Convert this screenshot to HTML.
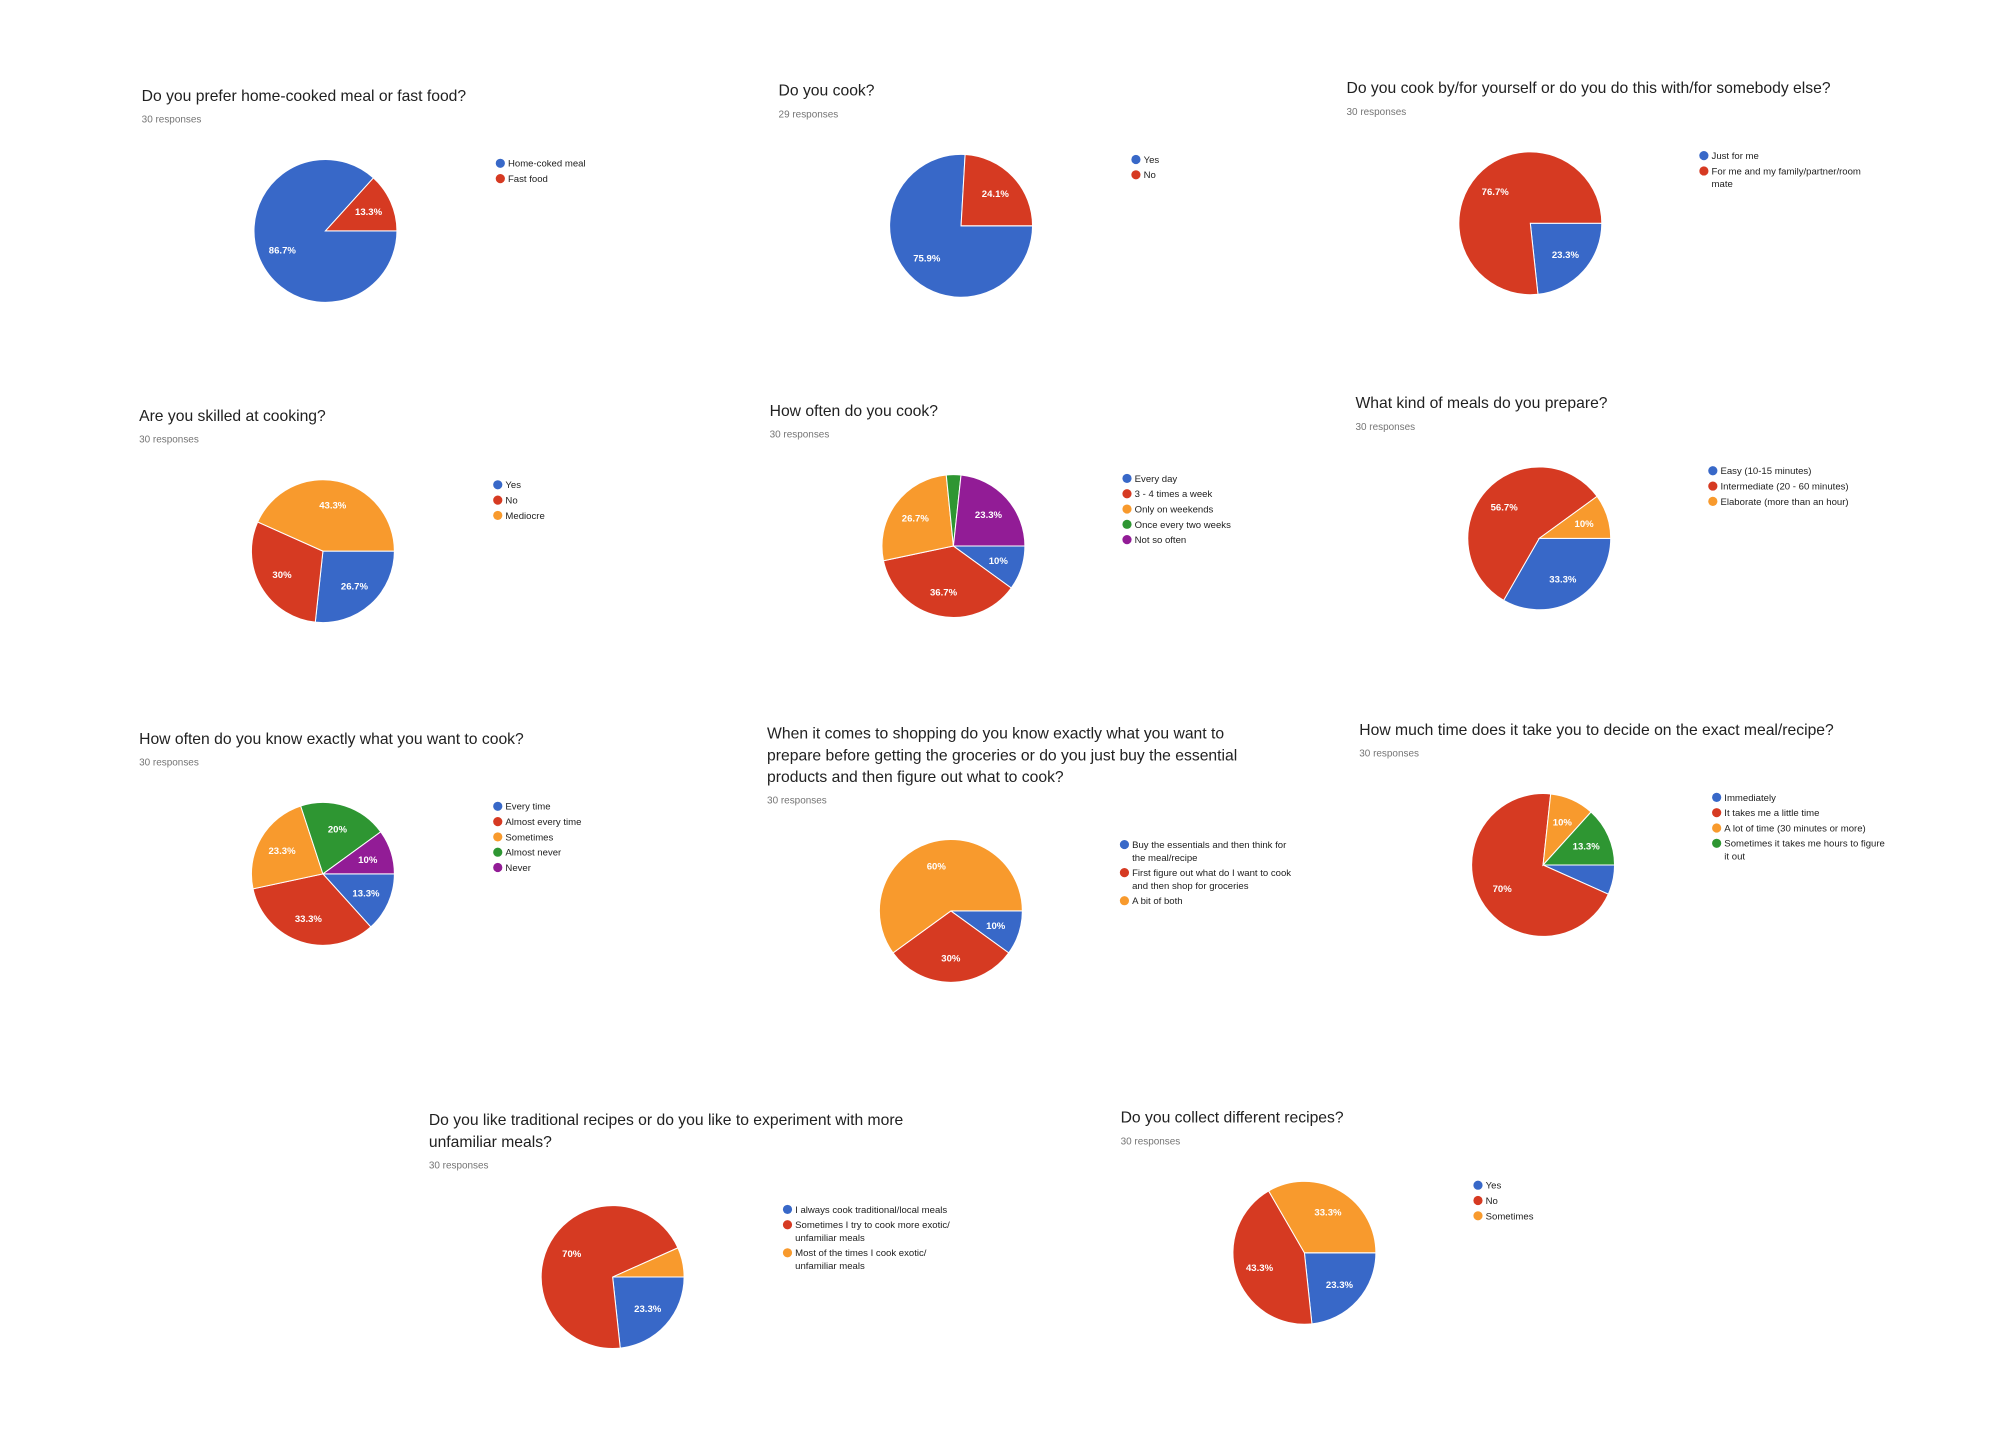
<!DOCTYPE html>
<html><head><meta charset="utf-8">
<style>
html,body{margin:0;padding:0;background:#fff;}
svg{display:block;}
text{font-family:"Liberation Sans",Arial,sans-serif;}
</style></head>
<body>
<svg id="root" width="2000" height="1448" viewBox="0 0 1567 1135" preserveAspectRatio="none" xmlns="http://www.w3.org/2000/svg"></svg>
<script>
const COLORS = ["#3868c8","#d63a22","#f89a2d","#2e9632","#921c96"];

const titles = [
 ["Do you prefer home-cooked meal or fast food?"],
 ["Do you cook?"],
 ["Do you cook by/for yourself or do you do this with/for somebody else?"],
 ["Are you skilled at cooking?"],
 ["How often do you cook?"],
 ["What kind of meals do you prepare?"],
 ["How often do you know exactly what you want to cook?"],
 ["When it comes to shopping do you know exactly what you want to","prepare before getting the groceries or do you just buy the essential","products and then figure out what to cook?"],
 ["How much time does it take you to decide on the exact meal/recipe?"],
 ["Do you like traditional recipes or do you like to experiment with more","unfamiliar meals?"],
 ["Do you collect different recipes?"]
];
const responses = ["30 responses","29 responses","30 responses","30 responses","30 responses","30 responses","30 responses","30 responses","30 responses","30 responses","30 responses"];
const legends = [
 [["Home-coked meal"],["Fast food"]],
 [["Yes"],["No"]],
 [["Just for me"],["For me and my family/partner/room","mate"]],
 [["Yes"],["No"],["Mediocre"]],
 [["Every day"],["3 - 4 times a week"],["Only on weekends"],["Once every two weeks"],["Not so often"]],
 [["Easy (10-15 minutes)"],["Intermediate (20 - 60 minutes)"],["Elaborate (more than an hour)"]],
 [["Every time"],["Almost every time"],["Sometimes"],["Almost never"],["Never"]],
 [["Buy the essentials and then think for","the meal/recipe"],["First figure out what do I want to cook","and then shop for groceries"],["A bit of both"]],
 [["Immediately"],["It takes me a little time"],["A lot of time (30 minutes or more)"],["Sometimes it takes me hours to figure","it out"]],
 [["I always cook traditional/local meals"],["Sometimes I try to cook more exotic/","unfamiliar meals"],["Most of the times I cook exotic/","unfamiliar meals"]],
 [["Yes"],["No"],["Sometimes"]]
];
const values = [
 [86.7,13.3],
 [75.9,24.1],
 [23.3,76.7],
 [26.7,30,43.3],
 [10,36.7,26.7,3.3,23.3],
 [33.3,56.7,10],
 [13.3,33.3,23.3,20,10],
 [10,30,60],
 [6.7,70,10,13.3],
 [23.3,70,6.7],
 [23.3,43.3,33.3]
];
// layout: [titleX, titleY, centerX, centerY, legendX, legendY]
const layout = [
 [111,79,255,181,392,128],
 [610,75,753,177,890,125],
 [1055,73,1199,175,1335,122],
 [109,330,253,432,390,380],
 [603,326,747,428,883,375],
 [1062,320,1206,422,1342,369],
 [109,583,253,685,390,632],
 [601,579,745,714,881,662],
 [1065,576,1209,678,1345,625],
 [336,882,480,1001,617,948],
 [878,880,1022,982,1158,929]
];
const R = 56;
const NS = "http://www.w3.org/2000/svg";
const root = document.getElementById('root');
function mk(tag, attrs, parent){
  const e = document.createElementNS(NS, tag);
  for (const k in attrs) e.setAttribute(k, attrs[k]);
  parent.appendChild(e);
  return e;
}
function pt(cx,cy,r,deg){ // deg from 12 o'clock clockwise
  const a = (deg-90)*Math.PI/180;
  return [cx + r*Math.cos(a), cy + r*Math.sin(a)];
}
for (let i=0;i<values.length;i++){
  const [tx,ty,cx,cy,lx,ly] = layout[i];
  const g = mk('g',{},root);
  
  
  titles[i].forEach((line,j)=>{
    const t = mk('text',{x:tx,y:ty+j*17,'font-size':12.3,fill:'#212121'},g);
    
    
    t.textContent = line;
  });
  const ry = ty + (titles[i].length-1)*17 + 17;
  const rt = mk('text',{x:tx,y:ry,'font-size':7.8,fill:'#757575'},g);
  
  
  rt.textContent = responses[i];
  const total = values[i].reduce((a,b)=>a+b,0);
  let ang = 90;
  values[i].forEach((v,k)=>{
    const sweep = v/total*360;
    const p1 = pt(cx,cy,R,ang), p2 = pt(cx,cy,R,ang+sweep);
    const large = sweep>180?1:0;
    const p = mk('path',{d:`M${cx},${cy} L${p1[0]},${p1[1]} A${R},${R} 0 ${large} 1 ${p2[0]},${p2[1]} Z`,fill:COLORS[k],stroke:'#fff','stroke-width':0.8},g);
    
    
    if (v >= 9.5){
      const lp = pt(cx,cy,R*0.66,ang+sweep/2);
      const lt = mk('text',{x:lp[0],y:lp[1]+2.7,'font-size':7.5,fill:'#fff','font-weight':'bold','text-anchor':'middle'},g);
      
      
      lt.textContent = v + '%';
    }
    ang += sweep;
  });
  let yy = ly;
  legends[i].forEach((lines,k)=>{
    const c = mk('circle',{cx:lx,cy:yy,r:3.6,fill:COLORS[k]},g);
    
    
    lines.forEach((ln,j)=>{
      const t = mk('text',{x:lx+6,y:yy+2.7+j*10,'font-size':7.5,fill:'#212121'},g);
      
      
      t.textContent = ln;
    });
    yy += 12 + (lines.length-1)*10;
  });
}
</script>
</body></html>
